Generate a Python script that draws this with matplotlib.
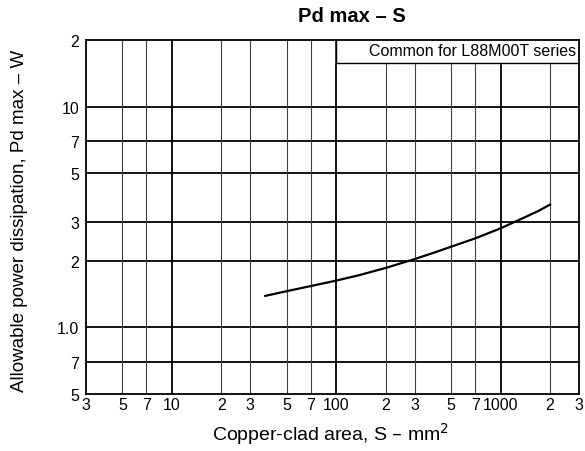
import matplotlib
matplotlib.use("Agg")
import matplotlib.pyplot as plt
import numpy as np

plt.rcParams['font.family'] = ['Liberation Sans', 'DejaVu Sans']

# Data
area_mm2 = [37, 50, 70, 100, 140, 200, 300, 400, 500, 700, 1000, 1400, 1700, 2000]
pd_max_w = [1.39, 1.46, 1.54, 1.63, 1.73, 1.86, 2.04, 2.19, 2.32, 2.53, 2.81, 3.15, 3.37, 3.60]

# Axis tick positions and labels
x_ticks = [3, 5, 7, 10, 20, 30, 50, 70, 100, 200, 300, 500, 700, 1000, 2000, 3000]
x_labels = ["3", "5", "7", "10", "2", "3", "5", "7", "100", "2", "3", "5", "7", "1000", "2", "3"]
y_ticks = [0.5, 0.7, 1.0, 2, 3, 5, 7, 10, 20]
y_labels = ["5", "7", "1.0", "2", "3", "5", "7", "10", "2"]
decades_x = [10, 100, 1000]
minor_x = [5, 7, 20, 30, 50, 70, 200, 300, 500, 700, 2000]

fig = plt.figure(figsize=(5.85, 4.52), dpi=100)
ax = fig.add_axes([86/585, 1 - 395/452, (579-86)/585, (395-41)/452])
ax.set_xscale('log')
ax.set_yscale('log')
ax.set_xlim(3, 3000)
ax.set_ylim(0.5, 20)

# Grid lines
for yv in y_ticks[1:-1]:
    ax.axhline(yv, color='black', lw=1.3, zorder=1)
for xv in decades_x:
    ax.axvline(xv, color='black', lw=1.3, zorder=1)
for xv in minor_x:
    ax.axvline(xv, color='0.25', lw=0.8, zorder=1)

# Box annotation
ax.fill_between([100, 3000], 15.8, 20, color='white', zorder=2)
ax.plot([100, 100, 3000], [20, 15.8, 15.8], color='black', lw=1.0, zorder=3)
ax.text(2900, 17.9, "Common for L88M00T series", ha='right', va='center',
        fontsize=11.5, zorder=4)

# Curve
ax.plot(area_mm2, pd_max_w, color='black', lw=1.6, zorder=5,
        solid_joinstyle='round')

for s in ax.spines.values():
    s.set_linewidth(1.3)
    s.set_color('black')

ax.set_xticks(x_ticks)
ax.set_xticklabels(x_labels)
ax.set_yticks(y_ticks)
ax.set_yticklabels(y_labels)
ax.minorticks_off()
ax.tick_params(axis='both', length=0, labelsize=11.5, pad=5)
ax.tick_params(axis='x', pad=2)

fig.text(352/585, 1 - 17/452, "Pd max – S", ha='center', va='center',
         fontsize=14.5, fontweight='bold')
fig.text(331/585, 1 - 434/452, "Copper-clad area, S – mm$^2$", ha='center',
         va='center', fontsize=14)
fig.text(20/585, 1 - 221/452, "Allowable power dissipation, Pd max – W",
         ha='center', va='center', rotation=90, fontsize=13.5)

fig.savefig("out.png", dpi=100)
